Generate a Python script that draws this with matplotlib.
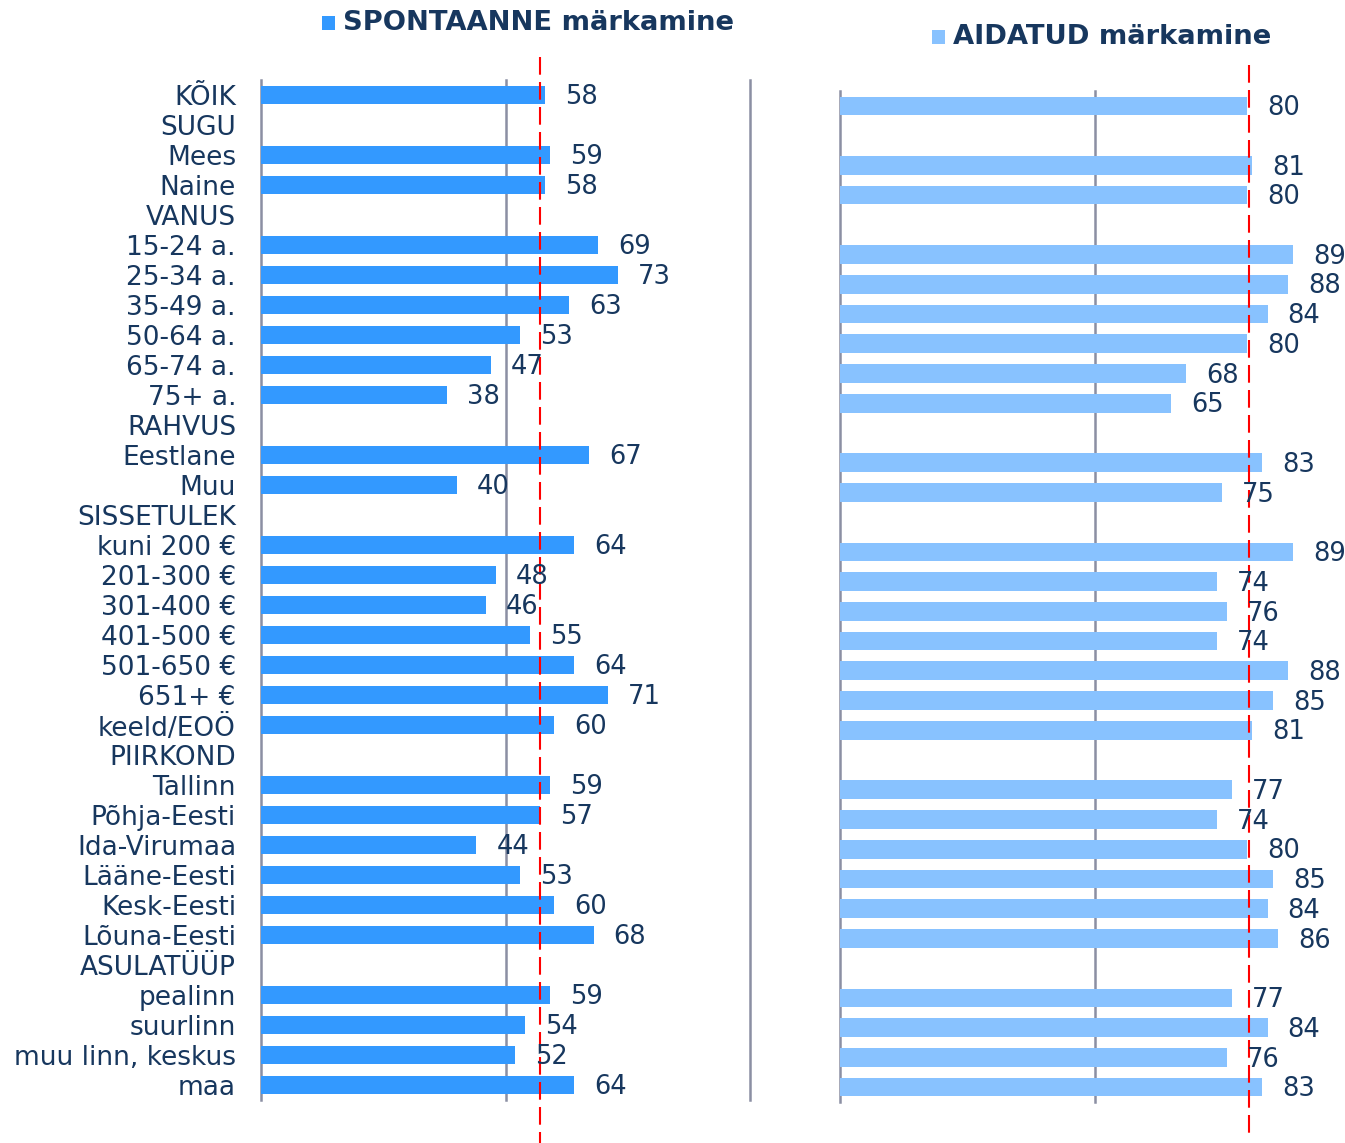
import matplotlib
matplotlib.use("Agg")
import matplotlib.pyplot as plt
from matplotlib.patches import Rectangle
from matplotlib.transforms import blended_transform_factory

categories = [
    "KÕIK", "SUGU", "Mees", "Naine", "VANUS",
    "15-24 a.", "25-34 a.", "35-49 a.", "50-64 a.", "65-74 a.", "75+ a.",
    "RAHVUS", "Eestlane", "Muu", "SISSETULEK",
    "kuni 200 €", "201-300 €", "301-400 €", "401-500 €", "501-650 €", "651+ €",
    "keeld/EOÖ", "PIIRKOND",
    "Tallinn", "Põhja-Eesti", "Ida-Virumaa", "Lääne-Eesti", "Kesk-Eesti",
    "Lõuna-Eesti", "ASULATÜÜP",
    "pealinn", "suurlinn", "muu linn, keskus", "maa",
]

spontaanne = [58, None, 59, 58, None, 69, 73, 63, 53, 47, 38, None, 67, 40, None,
              64, 48, 46, 55, 64, 71, 60, None, 59, 57, 44, 53, 60, 68, None,
              59, 54, 52, 64]
aidatud = [80, None, 81, 80, None, 89, 88, 84, 80, 68, 65, None, 83, 75, None,
           89, 74, 76, 74, 88, 85, 81, None, 77, 74, 80, 85, 84, 86, None,
           77, 84, 76, 83]

spont_ref = 57
aid_ref = 80.3

series_titles = ["SPONTAANNE märkamine", "AIDATUD märkamine"]

TEXT = "#17375E"
GRID = "#8B8FA3"
COL_L = "#3399FF"
COL_R = "#88C2FF"

W, H = 1345, 1143
fig = plt.figure(figsize=(W / 100, H / 100), dpi=100)
plt.rcParams["font.family"] = ["DejaVu Sans"]


def px_axes(x0, x1, y0, y1):
    return fig.add_axes([x0 / W, 1 - y1 / H, (x1 - x0) / W, (y1 - y0) / H])


axL = px_axes(261, 750, 80, 1100)
axR = px_axes(840, 1349, 91, 1102)

n = len(categories)
ypos = list(range(n))


def draw(ax, values, color, ref, span, show_labels):
    ax.set_xlim(0, 100)
    ax.set_ylim(n - 0.5, -0.5)
    for s in ax.spines.values():
        s.set_visible(False)
    for gx in (0, 50, 100):
        ax.axvline(gx, color=GRID, lw=1.8, zorder=1, clip_on=False)
    ys = [i for i, v in zip(ypos, values) if v is not None]
    vs = [v for v in values if v is not None]
    ax.barh(ys, vs, height=0.63, color=color, zorder=2)
    for y, v in zip(ys, vs):
        ax.annotate(str(v), (v, y), xytext=(14.5, -6.6), textcoords="offset points",
                    va="baseline", ha="left", fontsize=18.5, color=TEXT, zorder=4)
    tr = blended_transform_factory(ax.transData, ax.transAxes)
    ax.plot([ref, ref], span, transform=tr, color="#FF0000", lw=1.5,
            dashes=(8.5, 3.5), clip_on=False, zorder=3)
    ax.set_xticks([])
    ax.tick_params(axis="y", length=0, pad=18)
    if show_labels:
        ax.set_yticks(ypos)
        ax.set_yticklabels(categories, fontsize=19, color=TEXT)
    else:
        ax.set_yticks([])


draw(axL, spontaanne, COL_L, spont_ref, (1.0225, -0.042), True)
draw(axR, aidatud, COL_R, aid_ref, (1.0257, -0.0346), False)

# Series titles with colour keys
for (sx, sy, col, title) in [(322, 23, COL_L, series_titles[0]),
                             (932, 37, COL_R, series_titles[1])]:
    fig.add_artist(Rectangle((sx / W, 1 - (sy + 7) / H), 13 / W, 14 / H,
                             transform=fig.transFigure, color=col, lw=0))
    fig.text((sx + 21) / W, 1 - sy / H, title, fontsize=19.7, fontweight="bold",
             color=TEXT, va="center", ha="left")

fig.savefig("out.png", dpi=100)
